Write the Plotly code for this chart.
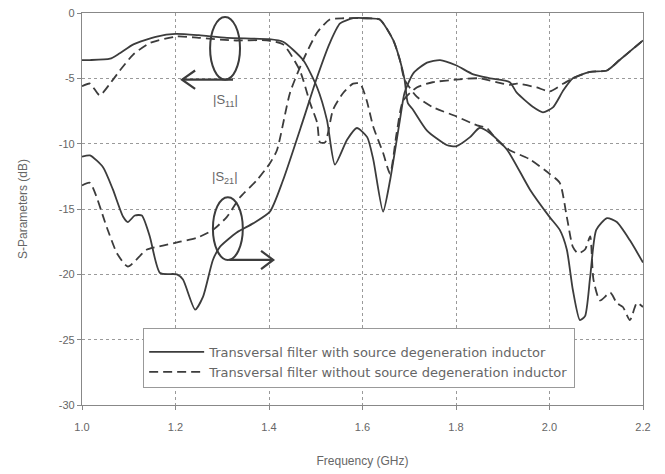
import plotly.graph_objects as go

# S11 with source degeneration inductor (solid)
f_s11_with = [1.0, 1.017, 1.06, 1.08, 1.11, 1.16, 1.20, 1.25, 1.31, 1.40, 1.43, 1.473, 1.503, 1.524, 1.541,
              1.567, 1.588, 1.61, 1.623, 1.644, 1.659, 1.68, 1.69, 1.709, 1.738, 1.766, 1.80, 1.837, 1.873,
              1.915, 1.93, 1.965, 1.986, 2.008, 2.03, 2.05, 2.087, 2.123, 2.15, 2.2]
s11_with = [-3.6, -3.6, -3.5, -3.1, -2.4, -1.8, -1.6, -1.7, -1.9, -2.0, -2.2, -3.6, -5.7, -8.2, -11.6,
            -9.7, -8.8, -9.5, -11.2, -15.2, -12.8, -8.2, -6.1, -4.6, -3.8, -3.6, -4.0, -4.7, -5.0,
            -5.3, -6.1, -7.2, -7.6, -7.2, -5.9, -5.0, -4.5, -4.4, -3.6, -2.1]

# S11 without source degeneration inductor (dashed)
f_s11_without = [1.0, 1.017, 1.038, 1.06, 1.081, 1.109, 1.145, 1.203, 1.25, 1.323, 1.395, 1.43, 1.466, 1.488,
                 1.503, 1.509, 1.52, 1.537, 1.559, 1.58, 1.595, 1.609, 1.623, 1.644, 1.659, 1.673, 1.687,
                 1.716, 1.75, 1.80, 1.85, 1.915, 1.93, 1.973, 2.0, 2.03, 2.05, 2.087, 2.123, 2.15, 2.2]
s11_without = [-5.6, -5.4, -6.3, -5.4, -4.4, -3.2, -2.3, -1.8, -1.9, -2.1, -2.1, -2.4, -4.4, -6.9,
               -8.4, -9.9, -9.9, -7.4, -6.1, -5.4, -5.4, -6.7, -8.7, -10.7, -12.3, -9.2, -6.7,
               -5.7, -5.3, -5.1, -5.0, -5.5, -5.4, -5.7, -6.0, -5.4, -5.0, -4.5, -4.4, -3.6, -2.1]

# S21 with source degeneration inductor (solid)
f_s21_with = [1.0, 1.017, 1.045, 1.066, 1.088, 1.098, 1.113, 1.128, 1.145, 1.167, 1.203, 1.216, 1.242,
              1.259, 1.28, 1.295, 1.331, 1.366, 1.402, 1.43, 1.473, 1.503, 1.53, 1.552, 1.58, 1.61, 1.637,
              1.666, 1.68, 1.69, 1.697, 1.708, 1.738, 1.78, 1.80, 1.83, 1.85, 1.873, 1.91, 1.958, 2.0,
              2.022, 2.037, 2.05, 2.065, 2.076, 2.087, 2.10, 2.123, 2.144, 2.172, 2.2]
s21_with = [-11.0, -10.9, -11.8, -13.5, -15.6, -16.0, -15.5, -15.5, -17.1, -19.9, -20.0, -20.4, -22.7,
            -21.7, -18.9, -17.9, -16.8, -16.1, -15.2, -12.8, -8.2, -4.9, -2.3, -0.8, -0.4, -0.4, -0.5,
            -2.1, -3.6, -5.1, -6.9, -7.4, -9.0, -10.1, -10.2, -9.5, -8.8, -9.2, -10.5, -13.5, -15.6,
            -16.6, -18.1, -21.2, -23.5, -23.2, -20.2, -16.6, -15.7, -16.0, -17.4, -19.1]

# S21 without source degeneration inductor (dashed)
f_s21_without = [1.0, 1.017, 1.053, 1.075, 1.098, 1.139, 1.173, 1.21, 1.246, 1.28, 1.31, 1.338, 1.374,
                 1.402, 1.417, 1.445, 1.473, 1.503, 1.53, 1.56, 1.60, 1.637, 1.666, 1.68, 1.69, 1.716,
                 1.75, 1.80, 1.845, 1.866, 1.887, 1.915, 1.958, 2.0, 2.022, 2.037, 2.05, 2.061, 2.076,
                 2.087, 2.094, 2.108, 2.13, 2.144, 2.157, 2.172, 2.187, 2.2]
s21_without = [-13.2, -13.0, -16.4, -18.4, -19.4, -18.1, -17.8, -17.5, -17.2, -16.6, -15.6, -14.1, -12.8,
               -11.5, -10.5, -6.1, -3.6, -1.5, -0.5, -0.4, -0.4, -0.5, -2.1, -3.6, -5.1, -6.4,
               -7.2, -7.9, -8.6, -8.8, -9.7, -10.5, -11.2, -12.3, -13.0, -15.6, -17.9, -18.4, -18.1,
               -17.1, -20.4, -22.0, -21.4, -22.2, -22.5, -23.5, -22.2, -22.5]

x_ticks = [1.0, 1.2, 1.4, 1.6, 1.8, 2.0, 2.2]
x_tick_labels = ["1.0", "1.2", "1.4", "1.6", "1.8", "2.0", "2.2"]
y_ticks = [0, -5, -10, -15, -20, -25, -30]
y_tick_labels = ["0", "-5", "-10", "-15", "-20", "-25", "-30"]

name_with = "Transversal filter with source degeneration inductor"
name_without = "Transversal filter without source degeneration inductor"

LINE = "#3c3c3c"
GRAY = "#666666"

fig = go.Figure()
fig.add_trace(go.Scatter(x=f_s11_with, y=s11_with, mode="lines", name=name_with,
                         line=dict(color=LINE, width=1.8, shape="spline", smoothing=0.6),
                         legendgroup="with"))
fig.add_trace(go.Scatter(x=f_s11_without, y=s11_without, mode="lines", name=name_without,
                         line=dict(color=LINE, width=1.8, dash="9px,5px", shape="spline", smoothing=0.6),
                         legendgroup="without"))
fig.add_trace(go.Scatter(x=f_s21_with, y=s21_with, mode="lines", name=name_with,
                         line=dict(color=LINE, width=1.8, shape="spline", smoothing=0.6),
                         legendgroup="with", showlegend=False))
fig.add_trace(go.Scatter(x=f_s21_without, y=s21_without, mode="lines", name=name_without,
                         line=dict(color=LINE, width=1.8, dash="9px,5px", shape="spline", smoothing=0.6),
                         legendgroup="without", showlegend=False))

# ellipses marking the curve groups
fig.add_shape(type="circle", xref="x", yref="y", x0=1.274, x1=1.338, y0=-5.1, y1=-0.3,
              line=dict(color=LINE, width=2))
fig.add_shape(type="circle", xref="x", yref="y", x0=1.280, x1=1.344, y0=-18.9, y1=-14.1,
              line=dict(color=LINE, width=2))

# arrows (line + open chevron head)
fig.add_shape(type="line", xref="x", yref="y", x0=1.323, y0=-5.1, x1=1.214, y1=-5.1,
              line=dict(color=LINE, width=2.2))
fig.add_shape(type="path", xref="x", yref="y", path="M 1.242,-4.4 L 1.214,-5.1 L 1.242,-5.8",
              line=dict(color=LINE, width=2.2))
fig.add_shape(type="line", xref="x", yref="y", x0=1.315, y0=-18.9, x1=1.409, y1=-18.9,
              line=dict(color=LINE, width=2.2))
fig.add_shape(type="path", xref="x", yref="y", path="M 1.383,-18.2 L 1.409,-18.9 L 1.383,-19.6",
              line=dict(color=LINE, width=2.2))

# labels
fig.add_annotation(x=1.306, y=-6.7, xref="x", yref="y", text="|S<sub>11</sub>|", showarrow=False,
                   font=dict(family="Liberation Sans, Arial", size=13, color=GRAY))
fig.add_annotation(x=1.306, y=-12.6, xref="x", yref="y", text="|S<sub>21</sub>|", showarrow=False,
                   font=dict(family="Liberation Sans, Arial", size=13, color=GRAY))

fig.update_layout(
    width=665, height=474,
    margin=dict(l=82, r=22, t=13, b=69, autoexpand=False),
    paper_bgcolor="white", plot_bgcolor="white",
    font=dict(family="Liberation Sans, Arial", size=11, color=GRAY),
    legend=dict(x=0.109, y=0.196, xanchor="left", yanchor="top",
                bgcolor="white", bordercolor="#999999", borderwidth=1,
                title=dict(text=" ", font=dict(size=6)),
                font=dict(family="DejaVu Sans", size=13, color=GRAY), itemwidth=55, tracegroupgap=0),
    showlegend=True,
)
fig.update_xaxes(range=[1.0, 2.2], tickvals=x_ticks, ticktext=x_tick_labels,
                 showgrid=True, gridcolor="#9a9a9a", griddash="dot", gridwidth=1.2,
                 showline=True, linecolor="#888888", linewidth=1.2, mirror=True,
                 ticks="outside", ticklen=4, tickcolor="#888888", ticklabelstandoff=8,
                 title=dict(text="Frequency (GHz)", font=dict(size=12, color=GRAY), standoff=24),
                 zeroline=False, automargin=False)
fig.update_yaxes(range=[-30, 0], tickvals=y_ticks, ticktext=y_tick_labels,
                 showgrid=True, gridcolor="#9a9a9a", griddash="dot", gridwidth=1.2,
                 showline=True, linecolor="#888888", linewidth=1.2, mirror=True,
                 ticks="outside", ticklen=4, tickcolor="#888888",
                 title=dict(text="S-Parameters (dB)", font=dict(size=12, color=GRAY), standoff=28),
                 zeroline=False, automargin=False)

fig.write_html("out.html", config={"displayModeBar": False},
               post_script="document.body.style.margin='0';")
